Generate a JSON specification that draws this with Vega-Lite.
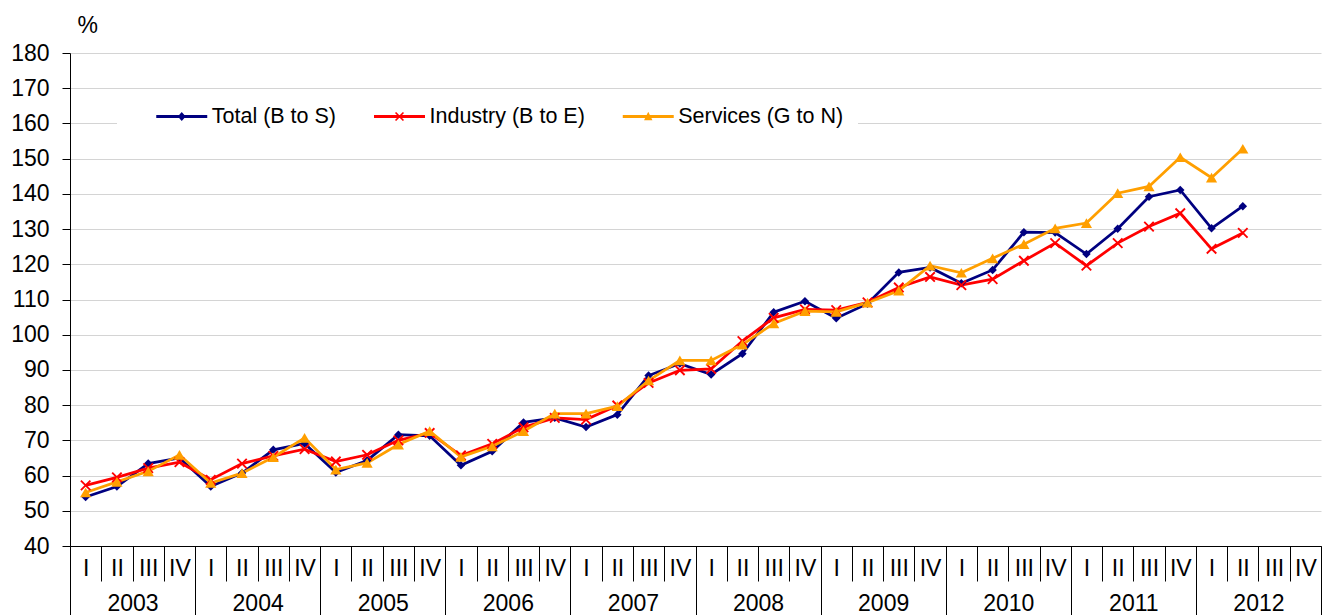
{
  "$schema": "https://vega.github.io/schema/vega-lite/v6.json",
  "width": 1251,
  "height": 493,
  "autosize": "none",
  "padding": {"left": 70, "top": 53, "right": 1, "bottom": 69},
  "background": "white",
  "config": {
    "view": {"stroke": null},
    "font": "Liberation Sans",
    "legend": {"orient": "none", "legendX": 47, "legendY": 36.25, "direction": "horizontal", "fillColor": "white", "padding": 14, "symbolSize": 650, "symbolStrokeWidth": 0, "symbolOpacity": 1, "labelOffset": 17, "columnPadding": 36.75, "labelFontSize": 21.5, "labelFont": "Liberation Sans", "labelColor": "#000000", "labelLimit": 400, "titleOrient": "left", "titlePadding": 37.75, "titleFontSize": 21}
  },
  "layer": [
    {
      "data": {"values": [
        {"q": "2003 I", "Total (B to S)": 53.9, "Industry (B to E)": 57.2, "Services (G to N)": 55.2},
        {"q": "2003 II", "Total (B to S)": 56.9, "Industry (B to E)": 59.5, "Services (G to N)": 58.2},
        {"q": "2003 III", "Total (B to S)": 63.4, "Industry (B to E)": 62.1, "Services (G to N)": 61.2},
        {"q": "2003 IV", "Total (B to S)": 65.0, "Industry (B to E)": 63.8, "Services (G to N)": 65.9},
        {"q": "2004 I", "Total (B to S)": 56.9, "Industry (B to E)": 58.8, "Services (G to N)": 57.9},
        {"q": "2004 II", "Total (B to S)": 60.7, "Industry (B to E)": 63.4, "Services (G to N)": 60.7},
        {"q": "2004 III", "Total (B to S)": 67.3, "Industry (B to E)": 65.6, "Services (G to N)": 65.2},
        {"q": "2004 IV", "Total (B to S)": 69.1, "Industry (B to E)": 67.5, "Services (G to N)": 70.7},
        {"q": "2005 I", "Total (B to S)": 60.9, "Industry (B to E)": 64.0, "Services (G to N)": 61.7},
        {"q": "2005 II", "Total (B to S)": 64.3, "Industry (B to E)": 65.9, "Services (G to N)": 63.6},
        {"q": "2005 III", "Total (B to S)": 71.6, "Industry (B to E)": 70.0, "Services (G to N)": 68.8},
        {"q": "2005 IV", "Total (B to S)": 71.3, "Industry (B to E)": 72.1, "Services (G to N)": 72.6},
        {"q": "2006 I", "Total (B to S)": 62.9, "Industry (B to E)": 65.7, "Services (G to N)": 65.3},
        {"q": "2006 II", "Total (B to S)": 66.9, "Industry (B to E)": 69.0, "Services (G to N)": 68.3},
        {"q": "2006 III", "Total (B to S)": 75.1, "Industry (B to E)": 73.7, "Services (G to N)": 72.6},
        {"q": "2006 IV", "Total (B to S)": 76.4, "Industry (B to E)": 76.4, "Services (G to N)": 77.6},
        {"q": "2007 I", "Total (B to S)": 73.8, "Industry (B to E)": 75.9, "Services (G to N)": 77.6},
        {"q": "2007 II", "Total (B to S)": 77.3, "Industry (B to E)": 79.9, "Services (G to N)": 79.7},
        {"q": "2007 III", "Total (B to S)": 88.4, "Industry (B to E)": 86.3, "Services (G to N)": 87.0},
        {"q": "2007 IV", "Total (B to S)": 91.8, "Industry (B to E)": 89.9, "Services (G to N)": 92.7},
        {"q": "2008 I", "Total (B to S)": 88.7, "Industry (B to E)": 90.3, "Services (G to N)": 92.7},
        {"q": "2008 II", "Total (B to S)": 94.6, "Industry (B to E)": 98.2, "Services (G to N)": 97.2},
        {"q": "2008 III", "Total (B to S)": 106.4, "Industry (B to E)": 104.8, "Services (G to N)": 103.2},
        {"q": "2008 IV", "Total (B to S)": 109.5, "Industry (B to E)": 107.2, "Services (G to N)": 106.7},
        {"q": "2009 I", "Total (B to S)": 104.7, "Industry (B to E)": 107.0, "Services (G to N)": 106.5},
        {"q": "2009 II", "Total (B to S)": 108.8, "Industry (B to E)": 109.2, "Services (G to N)": 109.1},
        {"q": "2009 III", "Total (B to S)": 117.7, "Industry (B to E)": 113.4, "Services (G to N)": 112.5},
        {"q": "2009 IV", "Total (B to S)": 119.1, "Industry (B to E)": 116.4, "Services (G to N)": 119.6},
        {"q": "2010 I", "Total (B to S)": 114.6, "Industry (B to E)": 114.1, "Services (G to N)": 117.6},
        {"q": "2010 II", "Total (B to S)": 118.4, "Industry (B to E)": 115.8, "Services (G to N)": 121.7},
        {"q": "2010 III", "Total (B to S)": 129.1, "Industry (B to E)": 121.0, "Services (G to N)": 125.7},
        {"q": "2010 IV", "Total (B to S)": 129.0, "Industry (B to E)": 126.0, "Services (G to N)": 130.2},
        {"q": "2011 I", "Total (B to S)": 122.9, "Industry (B to E)": 119.6, "Services (G to N)": 131.7},
        {"q": "2011 II", "Total (B to S)": 130.1, "Industry (B to E)": 126.0, "Services (G to N)": 140.2},
        {"q": "2011 III", "Total (B to S)": 139.2, "Industry (B to E)": 130.7, "Services (G to N)": 142.1},
        {"q": "2011 IV", "Total (B to S)": 141.1, "Industry (B to E)": 134.5, "Services (G to N)": 150.4},
        {"q": "2012 I", "Total (B to S)": 130.2, "Industry (B to E)": 124.4, "Services (G to N)": 144.6},
        {"q": "2012 II", "Total (B to S)": 136.5, "Industry (B to E)": 128.9, "Services (G to N)": 152.8}
      ]},
      "transform": [{"fold": ["Total (B to S)", "Industry (B to E)", "Services (G to N)"], "as": ["s", "v"]}],
      "encoding": {
        "x": {
          "field": "q", "type": "nominal", "sort": null,
          "scale": {"domain": ["2003 I","2003 II","2003 III","2003 IV","2004 I","2004 II","2004 III","2004 IV","2005 I","2005 II","2005 III","2005 IV","2006 I","2006 II","2006 III","2006 IV","2007 I","2007 II","2007 III","2007 IV","2008 I","2008 II","2008 III","2008 IV","2009 I","2009 II","2009 III","2009 IV","2010 I","2010 II","2010 III","2010 IV","2011 I","2011 II","2011 III","2011 IV","2012 I","2012 II","2012 III","2012 IV"], "type": "band", "paddingInner": 0, "paddingOuter": 0},
          "axis": {"orient": "bottom", "title": null, "labelExpr": "split(datum.label, ' ')[1]", "tickBand": "extent", "tickSize": 35, "tickColor": "#000000", "domainColor": "#000000", "labelFontSize": 23, "labelColor": "#000000", "labelFont": "Liberation Sans", "labelBaseline": "alphabetic", "labelPadding": -6, "labelAngle": 0, "grid": false, "labelOverlap": false}
        },
        "y": {
          "field": "v", "type": "quantitative",
          "scale": {"domain": [40, 180], "nice": false, "zero": false},
          "axis": {"values": [40,50,60,70,80,90,100,110,120,130,140,150,160,170,180], "grid": true, "gridColor": "#d4d4d4", "gridWidth": 1, "domainColor": "#000000", "tickColor": "#000000", "tickSize": 8, "labelFontSize": 23, "labelColor": "#000000", "labelFont": "Liberation Sans", "labelPadding": 13, "title": "%", "titleAngle": 0, "titleX": 7, "titleY": -28, "titleAlign": "left", "titleBaseline": "middle", "titleFontSize": 23, "titleFontWeight": "normal", "titleColor": "#000000", "titleFont": "Liberation Sans"}
        }
      },
      "layer": [
        {
          "mark": {"type": "line", "strokeWidth": 2.75},
          "encoding": {"color": {"field": "s", "type": "nominal", "scale": {"domain": ["Total (B to S)", "Industry (B to E)", "Services (G to N)"], "range": ["#000080", "#FF0000", "#FF9F00"]}, "legend": null}}
        },
        {
          "transform": [{"filter": "datum.s == 'Total (B to S)'"}],
          "mark": {"type": "point", "filled": true, "opacity": 1, "shape": "diamond", "size": 72, "color": "#000080"}
        },
        {
          "transform": [{"filter": "datum.s == 'Industry (B to E)'"}],
          "mark": {"type": "point", "filled": true, "opacity": 1, "shape": "M-0.86,-1.14L1.14,0.86L0.86,1.14L-1.14,-0.86Z M-0.86,1.14L-1.14,0.86L0.86,-1.14L1.14,-0.86Z", "size": 90, "color": "#FF0000"}
        },
        {
          "transform": [{"filter": "datum.s == 'Services (G to N)'"}],
          "mark": {"type": "point", "filled": true, "opacity": 1, "shape": "triangle-up", "size": 125, "color": "#FF9F00"}
        },
        {
          "mark": {"type": "point", "filled": true, "fillOpacity": 0, "strokeOpacity": 0},
          "encoding": {
            "fill": {"field": "s", "type": "nominal", "scale": {"domain": ["Total (B to S)", "Industry (B to E)", "Services (G to N)"], "range": ["#000080", "#FF0000", "#FF9F00"]}, "legend": {"title": " "}},
            "shape": {"field": "s", "type": "nominal", "scale": {"domain": ["Total (B to S)", "Industry (B to E)", "Services (G to N)"], "range": [
              "M-2,-0.11L2,-0.11L2,0.11L-2,0.11Z M-0.31,0L0,-0.35L0.31,0L0,0.35Z",
              "M-2,-0.11L2,-0.11L2,0.11L-2,0.11Z M-0.265,-0.355L0.355,0.265L0.265,0.355L-0.355,-0.265Z M-0.265,0.355L-0.355,0.265L0.265,-0.355L0.355,-0.265Z",
              "M-2,-0.11L2,-0.11L2,0.11L-2,0.11Z M0,-0.38L0.33,0.3L-0.33,0.3Z"
            ]}, "legend": {"title": " "}}
          }
        }
      ],
      "resolve": {"legend": {"fill": "independent", "shape": "independent"}}
    },
    {
      "data": {"values": [{"year": "2003"}, {"year": "2004"}, {"year": "2005"}, {"year": "2006"}, {"year": "2007"}, {"year": "2008"}, {"year": "2009"}, {"year": "2010"}, {"year": "2011"}, {"year": "2012"}]},
      "mark": {"type": "point", "opacity": 0},
      "encoding": {
        "x": {"field": "year", "type": "nominal", "sort": null, "scale": {"type": "band", "paddingInner": 0, "paddingOuter": 0},
          "axis": {"orient": "bottom", "title": null, "domain": false, "grid": false, "tickBand": "extent", "tickSize": 69, "tickColor": "#000000", "labelFontSize": 23, "labelColor": "#000000", "labelFont": "Liberation Sans", "labelBaseline": "alphabetic", "labelPadding": -4.5, "labelAngle": 0, "labelOverlap": false}}
      }
    }
  ],
  "resolve": {"scale": {"x": "independent"}}
}
